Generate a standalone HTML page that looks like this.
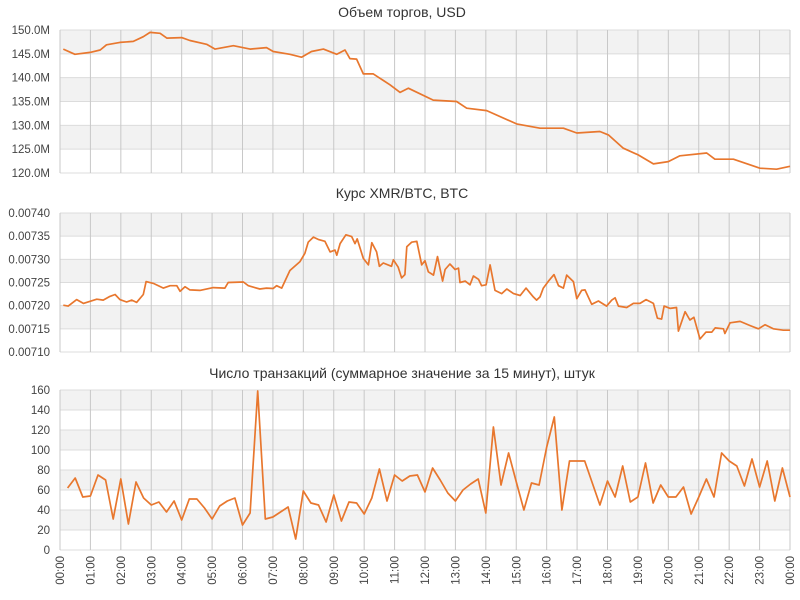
<!DOCTYPE html>
<html><head><meta charset="utf-8"><style>
body{margin:0;background:#fff;}
svg{display:block;font-family:"Liberation Sans","DejaVu Sans",sans-serif;}
</style></head><body>
<svg id="c" width="800" height="600"></svg>
<script>
const hourLabels = ["00:00","01:00","02:00","03:00","04:00","05:00","06:00","07:00","08:00","09:00","10:00","11:00","12:00","13:00","14:00","15:00","16:00","17:00","18:00","19:00","20:00","21:00","22:00","23:00","00:00"];
const volTimes = [0.11,0.49,0.99,1.32,1.53,1.97,2.41,2.74,2.96,3.29,3.51,4.00,4.27,4.82,5.10,5.70,6.25,6.79,7.01,7.56,7.94,8.27,8.66,9.10,9.37,9.53,9.75,9.97,10.30,10.85,11.18,11.45,12.27,13.04,13.37,14.03,15.01,15.78,16.55,16.99,17.75,18.03,18.52,19.01,19.51,20.0,20.38,21.26,21.53,22.14,23.01,23.56,24.0];
const volValues = [146,144.9,145.3,145.8,146.9,147.4,147.6,148.6,149.5,149.3,148.3,148.4,147.8,147.0,146.0,146.7,146.0,146.3,145.5,144.9,144.3,145.5,146.0,144.9,145.8,144.0,143.9,140.8,140.8,138.5,136.9,137.8,135.3,135.0,133.6,133.1,130.3,129.4,129.4,128.4,128.7,128.0,125.2,123.8,121.9,122.4,123.6,124.2,122.9,122.9,121.0,120.8,121.4];
const volTicks = [120,125,130,135,140,145,150];
const rateTimes = [0.11,0.27,0.55,0.77,1.21,1.42,1.64,1.81,1.97,2.19,2.36,2.52,2.74,2.83,3.07,3.40,3.62,3.84,3.95,4.11,4.27,4.60,5.04,5.42,5.53,6.03,6.19,6.57,6.79,7.01,7.12,7.29,7.56,7.89,8.05,8.16,8.33,8.49,8.71,8.88,9.04,9.10,9.21,9.40,9.59,9.70,9.77,9.97,10.14,10.25,10.41,10.50,10.63,10.90,10.96,11.12,11.23,11.34,11.40,11.56,11.73,11.89,12.00,12.11,12.28,12.41,12.58,12.66,12.82,12.99,13.10,13.15,13.32,13.48,13.59,13.76,13.86,14.01,14.14,14.30,14.52,14.69,14.91,15.13,15.32,15.56,15.67,15.78,15.89,16.06,16.24,16.39,16.55,16.66,16.88,16.99,17.15,17.26,17.48,17.70,17.97,18.14,18.25,18.36,18.63,18.85,19.07,19.27,19.51,19.64,19.78,19.86,20.06,20.27,20.33,20.55,20.71,20.84,21.04,21.24,21.43,21.54,21.81,21.86,22.03,22.36,22.69,22.96,23.18,23.45,23.78,24.00];
const rateValues = [720.1,719.9,721.3,720.5,721.4,721.2,722.0,722.4,721.3,720.8,721.2,720.7,722.4,725.2,724.8,723.8,724.3,724.3,723.1,724.1,723.4,723.3,723.9,723.8,725.0,725.1,724.3,723.6,723.8,723.7,724.3,723.8,727.6,729.5,731.3,733.7,734.8,734.3,733.9,731.6,732.0,730.9,733.4,735.3,734.9,733.4,734.4,730.2,728.8,733.6,731.6,728.5,729.2,728.5,729.9,728.3,726.0,726.7,732.7,733.7,733.9,728.8,729.7,727.3,726.6,730.6,725.3,727.8,729.0,727.8,728.1,725.0,725.3,724.5,726.4,725.7,724.3,724.5,728.8,723.3,722.6,723.6,722.6,722.2,723.8,721.9,721.2,721.9,723.8,725.3,726.7,724.3,723.8,726.6,725.2,721.5,723.3,723.4,720.3,721.0,719.9,721.2,721.7,719.9,719.6,720.5,720.5,721.3,720.5,717.3,717.1,719.9,719.4,719.6,714.5,718.7,716.9,717.5,712.8,714.3,714.3,715.2,715.0,714.0,716.3,716.6,715.7,715.0,715.9,715.0,714.7,714.7];
const rateTicks = [710,715,720,725,730,735,740];
const txValues = [62,72,53,54,75,70,31,71,26,68,52,45,48,38,49,30,51,51,42,31,44,49,52,25,37,159,31,33,38,43,11,59,47,45,28,55,29,48,47,36,52,81,49,75,69,74,75,58,82,70,57,49,60,66,71,37,123,65,97,68,40,67,65,103,133,40,89,89,89,67,45,69,53,84,48,53,87,47,65,53,53,63,36,53,71,53,97,89,84,64,91,63,89,49,82,53];
const txTicks = [0,20,40,60,80,100,120,140,160];

const NS="http://www.w3.org/2000/svg", svg=document.getElementById('c');
const X0=60, X1=790;
const xs = h => X0 + (X1-X0)*h/24;
function mk(tag, attrs, parent){const e=document.createElementNS(NS,tag);for(const k in attrs)e.setAttribute(k,attrs[k]);(parent||svg).appendChild(e);return e;}

function panel(name,title,titleY,top,bot,ticks,fmt,times,vals){
  const g=mk('g',{});
  
  
  const min=ticks[0],max=ticks[ticks.length-1];
  const ys=v=>bot-(bot-top)*(v-min)/(max-min);
  for(let i=0;i<ticks.length-1;i++){
    const fromTop = ticks.length-2-i;
    if(fromTop%2===0){
      const r=mk('rect',{x:X0,y:ys(ticks[i+1]),width:X1-X0,height:ys(ticks[i])-ys(ticks[i+1]),fill:'#f2f2f2'},g);
      
      
    }
  }
  ticks.forEach(t=>{
    const l=mk('line',{x1:X0,x2:X1,y1:ys(t),y2:ys(t),stroke:'#dcdcdc','stroke-width':1},g);
    
    
    const tx=mk('text',{x:X0-10,y:ys(t)+4,'text-anchor':'end','font-size':11.5,fill:'#444'},g);
    
    
    tx.textContent=fmt(t);
  });
  for(let h=0;h<=24;h++){
    const l=mk('line',{x1:xs(h),x2:xs(h),y1:top,y2:bot,stroke:'#c8c8c8','stroke-width':1},g);
    
    
  }
  const tt=mk('text',{x:402,y:titleY,'text-anchor':'middle','font-size':14,fill:'#333'},g);
  
  
  tt.textContent=title;
  const pts=vals.map((v,i)=>xs(times[i]).toFixed(1)+','+ys(v).toFixed(1)).join(' ');
  const pl=mk('polyline',{points:pts,fill:'none',stroke:'#e8772e','stroke-width':1.7,'stroke-linejoin':'round'},g);
  
  
}
panel('volume-chart','Объем торгов, USD',17,30,173,volTicks,t=>t.toFixed(1)+'M',volTimes,volValues);
panel('rate-chart','Курс XMR/BTC, BTC',198,213,352,rateTicks,t=>(t/100000).toFixed(5),rateTimes,rateValues);
const txTimes = txValues.map((v,i)=>(i+1)/4);
panel('transactions-chart','Число транзакций (суммарное значение за 15 минут), штук',378,390,550,txTicks,t=>String(t),txTimes,txValues);
hourLabels.forEach((lab,h)=>{
  const t=mk('text',{transform:`translate(${xs(h)+4},556) rotate(-90)`,'text-anchor':'end','font-size':11.5,fill:'#444'});
  
  
  t.textContent=lab;
});
</script>
</body></html>
